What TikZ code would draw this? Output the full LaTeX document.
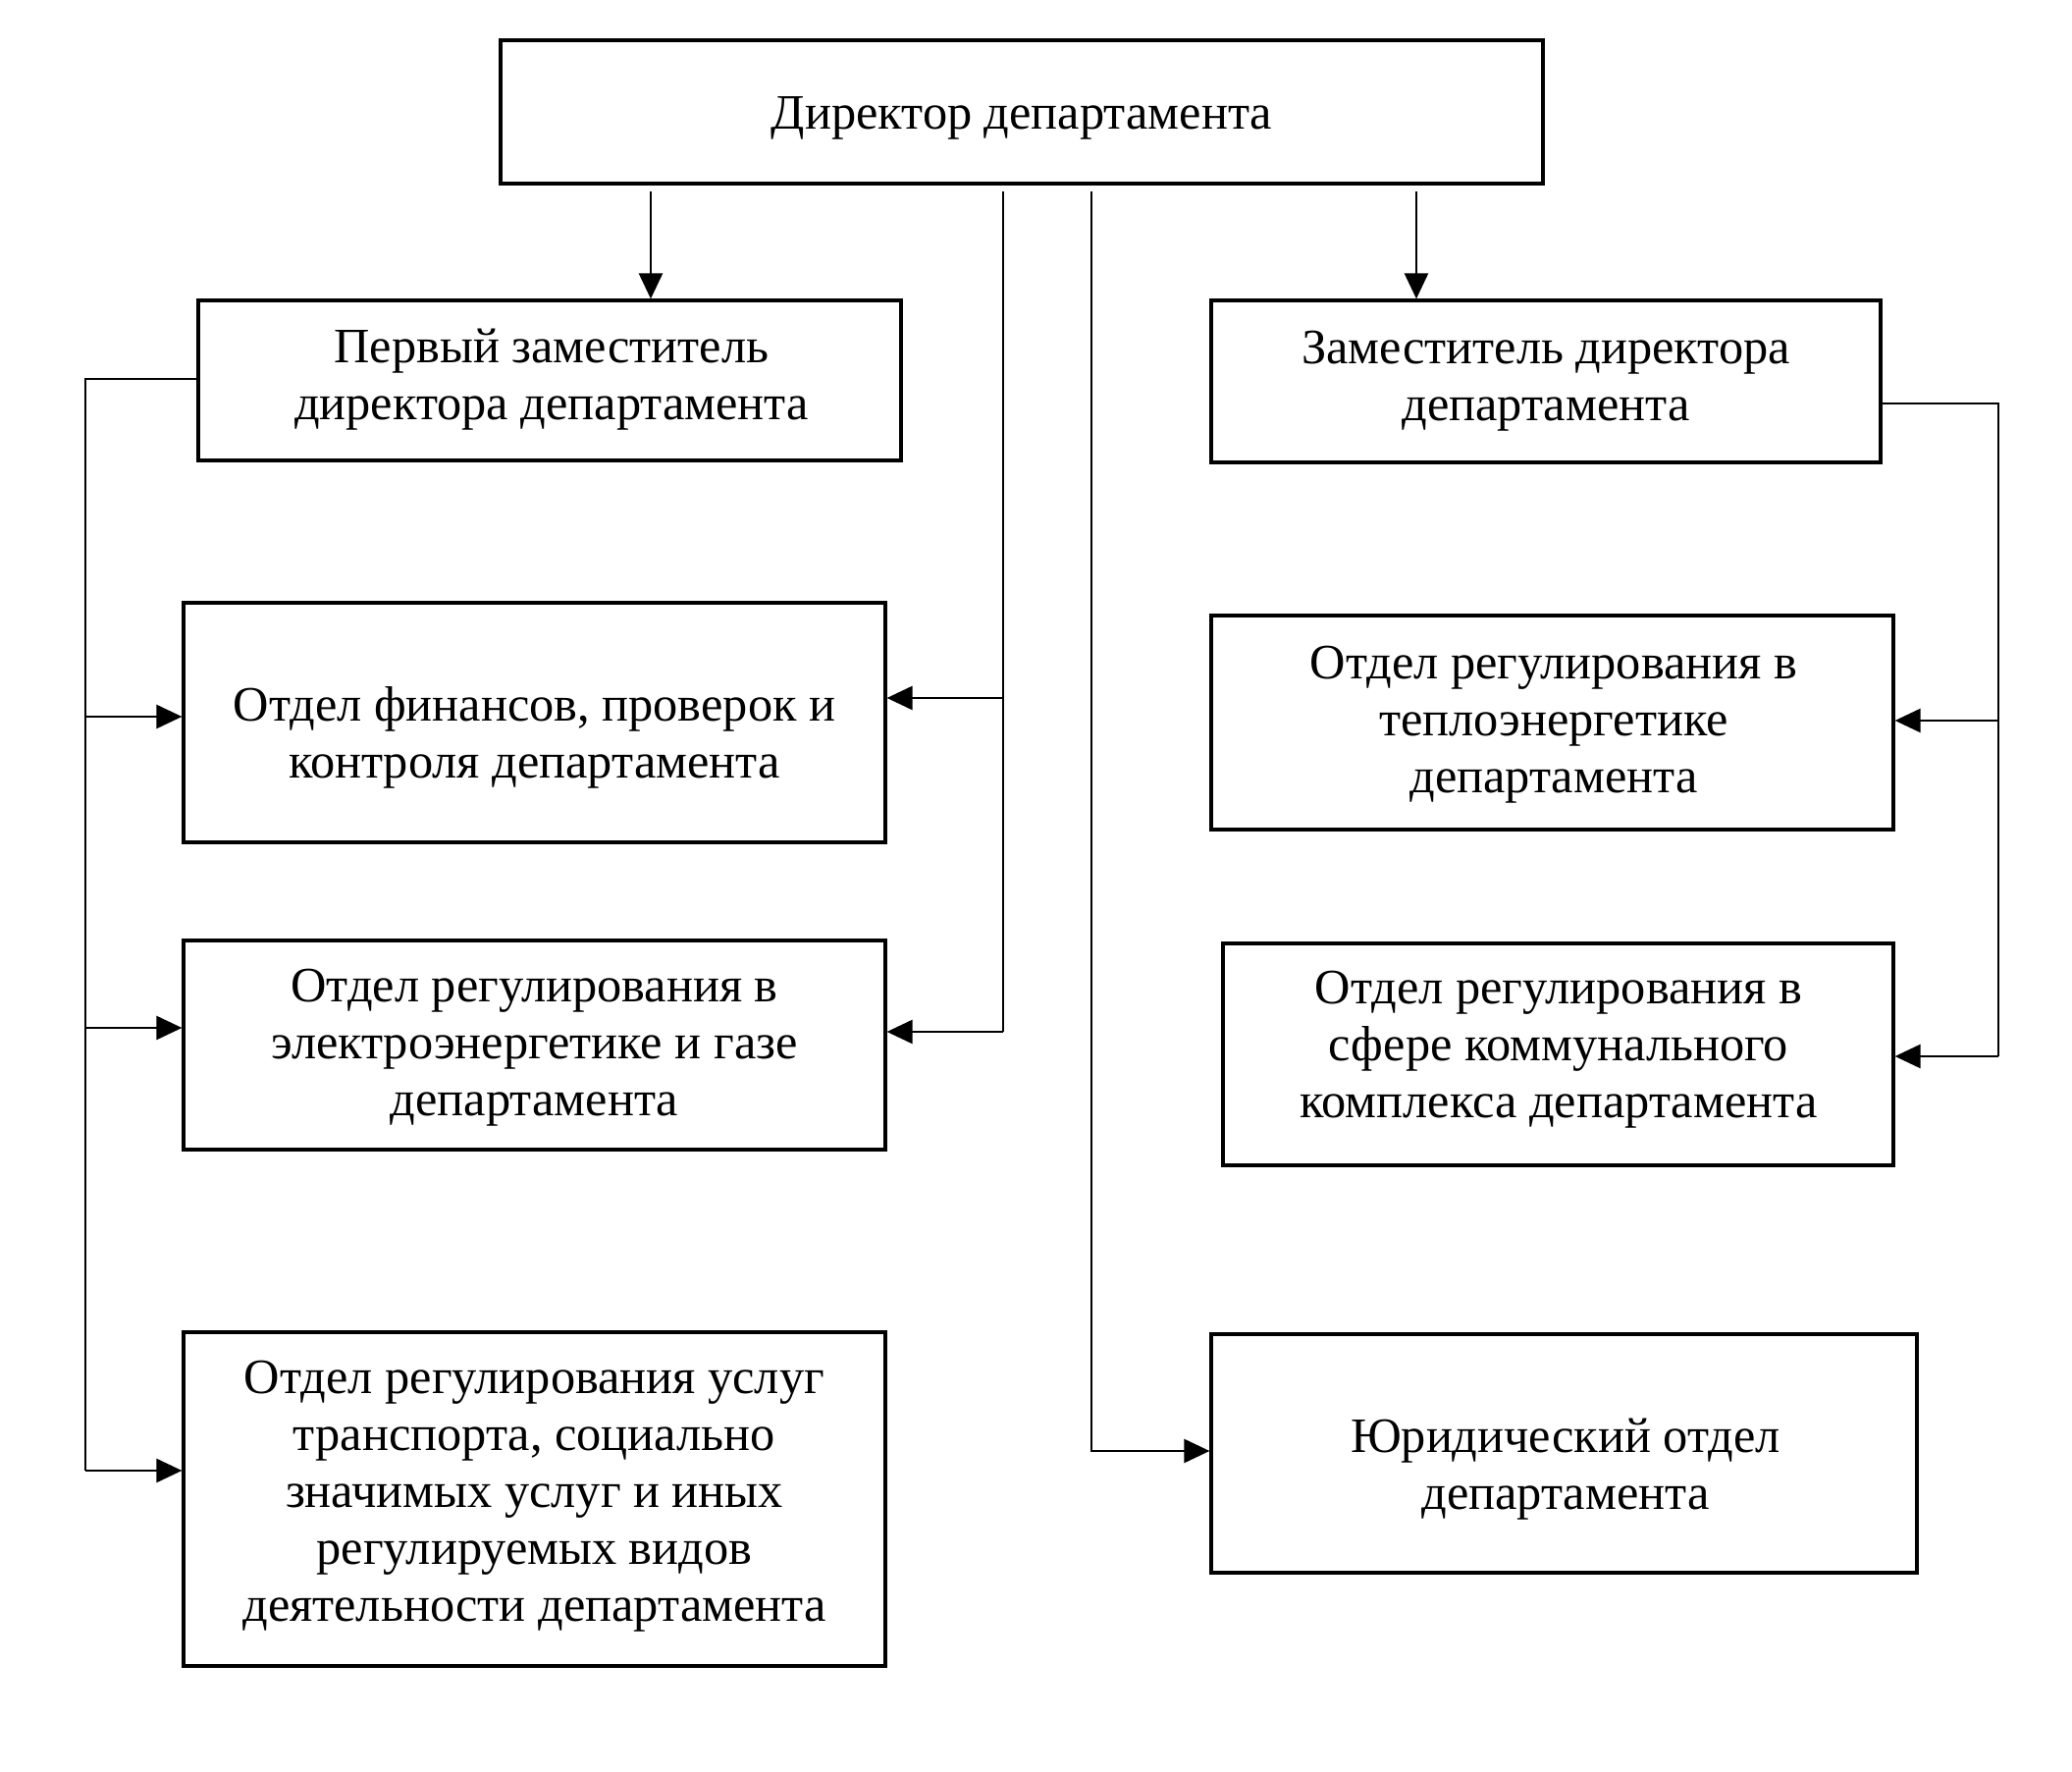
\documentclass[tikz,border=0pt]{standalone}
\usepackage{fontspec}
\setmainfont{Liberation Serif}
\usetikzlibrary{arrows.meta}
\begin{document}
\begin{tikzpicture}[x=0.25pt,y=-0.25pt,
  box/.style={draw, line width=0.8pt, rectangle, inner sep=0pt},
  txt/.style={inner sep=0pt, align=center, font=\fontsize{12.6}{14.5}\selectfont},
  conn/.style={line width=0.65pt},
  arr/.style={conn, -{Triangle[length=6.5pt,width=6pt]}}]
\useasboundingbox (0,0) rectangle (2111,1805);
% boxes
\node[box, minimum width=265.5pt, minimum height=36.5pt] (dir) at (1041,114) {};
\node[box, minimum width=179pt, minimum height=40.75pt] (fd) at (560,387.5) {};
\node[box, minimum width=170.5pt, minimum height=41.25pt] (dep) at (1575,388.5) {};
\node[box, minimum width=178.75pt, minimum height=61pt] (fin) at (544.5,736) {};
\node[box, minimum width=178.75pt, minimum height=53.25pt] (el) at (544.5,1064.5) {};
\node[box, minimum width=178.75pt, minimum height=85pt] (tr) at (544.5,1527) {};
\node[box, minimum width=173.75pt, minimum height=54.5pt] (tep) at (1581.5,736) {};
\node[box, minimum width=170.75pt, minimum height=56.5pt] (kom) at (1587.5,1074) {};
\node[box, minimum width=179.75pt, minimum height=60.75pt] (jur) at (1593.5,1480.5) {};
% texts
\node[txt] (dir-t) at (1041,120) {Директор департамента};
\node[txt] (fd-t) at (562,387) {Первый заместитель\\директора департамента};
\node[txt] (dep-t) at (1575,388) {Заместитель директора\\департамента};
\node[txt] (fin-t) at (544.5,751) {Отдел финансов, проверок и\\контроля департамента};
\node[txt] (el-t) at (544.5,1067) {Отдел регулирования в\\электроэнергетике и газе\\департамента};
\node[txt] (tr-t) at (544.5,1524) {Отдел регулирования услуг\\транспорта, социально\\значимых услуг и иных\\регулируемых видов\\деятельности департамента};
\node[txt] (tep-t) at (1583,738) {Отдел регулирования в\\теплоэнергетике\\департамента};
\node[txt] (kom-t) at (1588,1069) {Отдел регулирования в\\сфере коммунального\\комплекса департамента};
\node[txt] (jur-t) at (1595,1497) {Юридический отдел\\департамента};
% director connectors
\coordinate (s1) at (663,195);
\coordinate (s2) at (1022,195);
\coordinate (s3) at (1112,195);
\coordinate (s4) at (1443,195);
\draw[arr] (s1) -- (s1 |- fd.north);
\draw[arr] (s4) -- (s4 |- dep.north);
\coordinate (b2a) at (1022,711);
\coordinate (b2b) at (1022,1051);
\draw[conn] (s2) -- (b2b);
\draw[arr] (b2a) -- (b2a -| fin.east);
\draw[arr] (b2b) -- (b2b -| el.east);
\coordinate (b3) at (1112,1478);
\draw[arr] (s3) -- (b3) -- (b3 -| jur.west);
% left bus
\coordinate (l0) at (87,386);
\coordinate (l1) at (87,730);
\coordinate (l2) at (87,1047);
\coordinate (l3) at (87,1498);
\draw[conn] (l0 -| fd.west) -- (l0) -- (l3);
\draw[arr] (l1) -- (l1 -| fin.west);
\draw[arr] (l2) -- (l2 -| el.west);
\draw[arr] (l3) -- (l3 -| tr.west);
% right bus
\coordinate (r0) at (2036,411);
\coordinate (r1) at (2036,734);
\coordinate (r2) at (2036,1076);
\draw[conn] (r0 -| dep.east) -- (r0) -- (r2);
\draw[arr] (r1) -- (r1 -| tep.east);
\draw[arr] (r2) -- (r2 -| kom.east);
\end{tikzpicture}
\end{document}
